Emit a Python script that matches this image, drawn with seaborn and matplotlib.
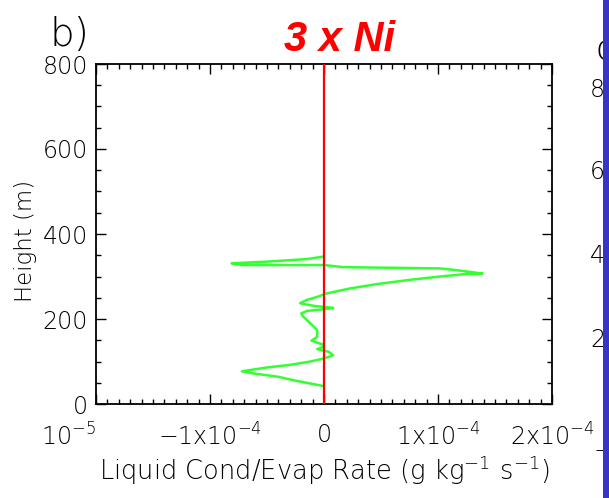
import numpy as np
import pandas as pd
import matplotlib
matplotlib.use("Agg")
import matplotlib.pyplot as plt
import seaborn as sns
from matplotlib.patches import Rectangle
from matplotlib.ticker import MultipleLocator

# ---- data ----
height = [42, 56, 64, 72, 77, 86, 92, 100, 107, 115, 123, 129, 134, 139, 149, 158,
          174, 190, 205, 213, 219, 223, 226, 231, 237, 245, 252, 260, 272, 282, 292,
          300, 306, 307, 314, 319, 322, 327, 327, 331, 335, 341, 345, 347]
rate = [0.0, -0.27e-4, -0.40e-4, -0.62e-4, -0.72e-4, -0.50e-4, -0.30e-4, -0.12e-4,
        0.0, 0.08e-4, 0.04e-4, -0.06e-4, -0.01e-4, 0.0, -0.11e-4, -0.06e-4,
        -0.06e-4, -0.12e-4, -0.18e-4, -0.20e-4, -0.15e-4, 0.0, 0.08e-4, -0.09e-4,
        -0.21e-4, -0.15e-4, -0.06e-4, 0.02e-4, 0.23e-4, 0.46e-4, 0.75e-4,
        1.02e-4, 1.25e-4, 1.39e-4, 1.19e-4, 1.02e-4, 0.17e-4, 0.0, -0.72e-4,
        -0.81e-4, -0.50e-4, -0.15e-4, -0.05e-4, 0.0]

xtick_values = [-2e-4, -1e-4, 0.0, 1e-4, 2e-4]
xtick_labels = ["10$^{-5}$", "\u22121x10$^{-4}$", "0", "1x10$^{-4}$", "2x10$^{-4}$"]
ytick_values = [0, 200, 400, 600, 800]
ytick_labels = ["0", "200", "400", "600", "800"]
neighbour_labels = ["800", "600", "400", "200"]

title = "3 x Ni"
panel = "b)"
xlabel = "Liquid Cond/Evap Rate (g kg$^{-1}$ s$^{-1}$)"
ylabel = "Height (m)"

# ---- style ----
sns.set_theme(style="white")
plt.rcParams["font.family"] = ["DejaVu Sans"]
plt.rcParams["mathtext.fontset"] = "custom"
plt.rcParams["mathtext.rm"] = "DejaVu Sans:light"
plt.rcParams["mathtext.it"] = "DejaVu Sans:light"
plt.rcParams["mathtext.bf"] = "DejaVu Sans"
txt = "#000000"
LW = "light"

W, H = 609, 498
fig = plt.figure(figsize=(W / 100, H / 100), dpi=100)
fig.patch.set_facecolor("white")
ax = fig.add_axes([96 / W, (H - 404) / H, 456 / W, 340 / H])
ax.set_facecolor("white")

df = pd.DataFrame({"rate": rate, "height": height})
sns.lineplot(data=df, x="rate", y="height", sort=False, estimator=None,
             color="#33ff33", lw=1.8, ax=ax, zorder=3)
ax.axvline(0, color="#ff0000", lw=1.6, zorder=5)

ax.set_xlim(-2e-4, 2e-4)
ax.set_ylim(0, 800)
ax.set_xticks(xtick_values)
ax.set_xticklabels(xtick_labels, fontweight=LW)
ax.set_yticks(ytick_values)
ax.set_yticklabels(ytick_labels, fontweight=LW)
ax.xaxis.set_minor_locator(MultipleLocator(1e-5))
ax.yaxis.set_minor_locator(MultipleLocator(50))
ax.get_xticklabels()[0].set_ha("right")

ax.tick_params(which="both", direction="in", top=True, right=True,
               bottom=True, left=True, color=txt, width=1.0, labelcolor=txt)
ax.tick_params(which="major", length=7)
ax.tick_params(which="minor", length=3.5)
ax.tick_params(axis="x", which="major", labelsize=17, pad=14)
ax.tick_params(axis="y", which="major", labelsize=17, pad=6)
for s in ax.spines.values():
    s.set_visible(True)
    s.set_color(txt)
    s.set_linewidth(1.3)

ax.set_xlabel(xlabel, fontsize=18.5, color=txt, fontweight=LW)
ax.set_ylabel(ylabel, fontsize=16.5, color=txt, fontweight=LW)
ax.xaxis.set_label_coords(0.5, -0.145)
ax.yaxis.set_label_coords(-0.13, 0.48)

fig.text(340 / W, 1 - 40 / H, title, color="#ff0000", fontsize=30,
         fontweight="bold", fontstyle="italic", family=["Liberation Sans", "DejaVu Sans"],
         ha="center", va="center")
fig.text(49 / W, 1 - 35 / H, panel, fontsize=28, color=txt, ha="left", va="center",
         fontweight=LW)

# fragments of the neighbouring panel, hidden behind the blue bar
fig.text(596 / W, 1 - 50 / H, "c)", fontsize=26, color=txt, ha="left", va="center",
         fontweight=LW)
for lab, yy in zip(neighbour_labels, [90, 172, 256, 340]):
    fig.text(590 / W, 1 - yy / H, lab, fontsize=17, color=txt, ha="left", va="center",
             fontweight=LW)
fig.text(593 / W, 1 - 450 / H, "\u2212", fontsize=17, color=txt, ha="left", va="center",
         fontweight=LW)

fig.patches.append(Rectangle((603 / W, 0), 1 - 603 / W, 1, transform=fig.transFigure,
                             facecolor="#3834c8", edgecolor="none", zorder=20))

fig.savefig("out.png", dpi=100)
